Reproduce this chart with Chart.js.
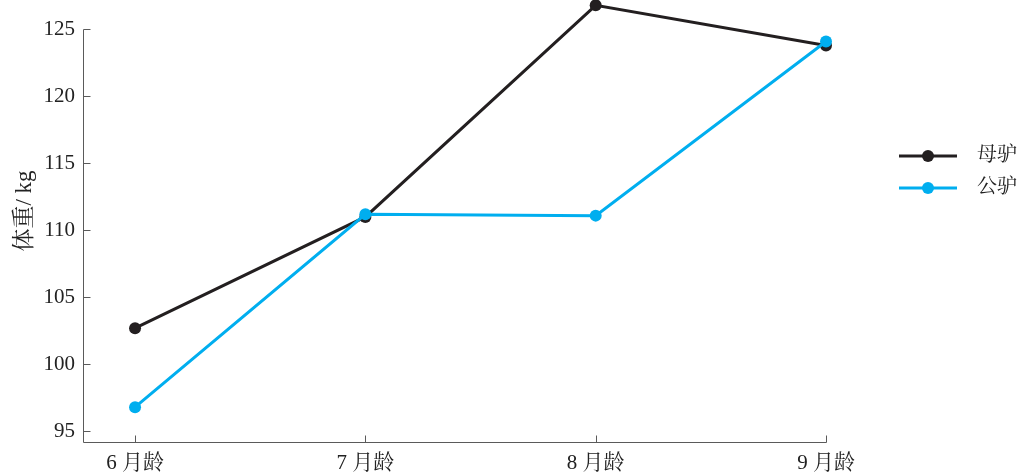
<!DOCTYPE html>
<html>
<head>
<meta charset="utf-8">
<script src="https://cdn.jsdelivr.net/npm/chart.js@4/dist/chart.umd.min.js"></script>
<style>
  html, body { margin: 0; padding: 0; background: #fff; }
  #wrap { width: 1024px; height: 473px; }
</style>
</head>
<body>
<div id="wrap"><canvas id="chart"></canvas></div>
<script>
const categories = ['6 月龄', '7 月龄', '8 月龄', '9 月龄'];
const seriesNames = ['母驴', '公驴'];
const femaleWeight = [102.7, 111.0, 126.8, 123.8];
const maleWeight = [96.8, 111.2, 111.1, 124.1];
const yTicks = [95, 100, 105, 110, 115, 120, 125];
const yTitle = '体重/ kg';

const black = '#231f20';
const blue = '#00aeef';
const axisColor = '#5a5a5a';
const fontFamily = "'Liberation Serif', 'Noto Serif CJK SC', 'Noto Sans CJK SC', serif";

// axis lines with inward ticks, the y title and the legend are drawn here
const extras = {
    id: 'extras',
    beforeDatasetsDraw(chart) {
        const ctx = chart.ctx;
        const xs = chart.scales.x;
        const ys = chart.scales.y;
        const left = Math.round(xs.left) + 0.5;
        const bottom = Math.round(ys.bottom) + 0.5;
        const top = Math.round(ys.getPixelForValue(yTicks[yTicks.length - 1])) + 0.5;
        const right = Math.round(xs.right) + 0.5;
        ctx.save();
        ctx.strokeStyle = axisColor;
        ctx.lineWidth = 1;
        ctx.beginPath();
        ctx.moveTo(left, top);
        ctx.lineTo(left, bottom);
        ctx.lineTo(right, bottom);
        yTicks.forEach(v => {
            const y = Math.round(ys.getPixelForValue(v)) + 0.5;
            ctx.moveTo(left, y);
            ctx.lineTo(left + 7, y);
        });
        categories.forEach((c, i) => {
            const x = Math.round(xs.getPixelForValue(i)) + 0.5;
            ctx.moveTo(x, bottom);
            ctx.lineTo(x, bottom - 7);
        });
        ctx.stroke();
        ctx.restore();
    },
    afterDraw(chart) {
        const ctx = chart.ctx;
        ctx.save();
        ctx.fillStyle = '#222';
        ctx.font = '23px ' + fontFamily;
        ctx.textAlign = 'center';
        ctx.textBaseline = 'middle';
        ctx.translate(25, 211);
        ctx.rotate(-Math.PI / 2);
        ctx.fillText(yTitle, 0, 0);
        ctx.restore();

        ctx.save();
        chart.data.datasets.forEach((ds, i) => {
            const y = 156 + i * 32;
            ctx.strokeStyle = ds.borderColor;
            ctx.lineWidth = 3;
            ctx.beginPath();
            ctx.moveTo(899, y);
            ctx.lineTo(957, y);
            ctx.stroke();
            ctx.fillStyle = ds.borderColor;
            ctx.beginPath();
            ctx.arc(928, y, 6, 0, Math.PI * 2);
            ctx.fill();
            ctx.fillStyle = '#222';
            ctx.font = '20px ' + fontFamily;
            ctx.textAlign = 'left';
            ctx.textBaseline = 'middle';
            ctx.fillText(ds.label, 977, y);
        });
        ctx.restore();
    }
};

const toPoints = arr => arr.map((v, i) => ({ x: i, y: v }));

new Chart(document.getElementById('chart'), {
    type: 'line',
    data: {
        datasets: [
            {
                label: seriesNames[0],
                data: toPoints(femaleWeight),
                borderColor: black,
                backgroundColor: black,
                borderWidth: 3,
                pointRadius: 6,
                pointBorderWidth: 0,
                order: 2
            },
            {
                label: seriesNames[1],
                data: toPoints(maleWeight),
                borderColor: blue,
                backgroundColor: blue,
                borderWidth: 3,
                pointRadius: 6,
                pointBorderWidth: 0,
                order: 1
            }
        ]
    },
    options: {
        responsive: true,
        maintainAspectRatio: false,
        animation: false,
        clip: false,
        layout: { padding: { top: 2, right: 198, bottom: 0, left: 0 } },
        plugins: {
            legend: { display: false },
            tooltip: { enabled: false }
        },
        scales: {
            x: {
                type: 'linear',
                min: -0.226,
                max: 3,
                afterBuildTicks: scale => {
                    scale.ticks = categories.map((c, i) => ({ value: i }));
                },
                afterFit: scale => {
                    scale.height = 31;
                    scale.paddingTop = 0;
                    scale.paddingBottom = 0;
                },
                grid: { display: false, drawTicks: false },
                border: { display: false },
                ticks: {
                    padding: 9,
                    maxRotation: 0,
                    color: '#222',
                    font: { family: fontFamily, size: 21 },
                    callback: v => categories[v]
                }
            },
            y: {
                min: 94.2,
                max: 126.75,
                afterBuildTicks: scale => {
                    scale.ticks = yTicks.map(v => ({ value: v }));
                },
                afterFit: scale => {
                    scale.width = 83;
                    scale.paddingTop = 0;
                    scale.paddingBottom = 0;
                },
                grid: { display: false, drawTicks: false },
                border: { display: false },
                ticks: {
                    padding: 8,
                    color: '#222',
                    font: { family: fontFamily, size: 21 }
                }
            }
        }
    },
    plugins: [extras]
});
</script>
</body>
</html>
